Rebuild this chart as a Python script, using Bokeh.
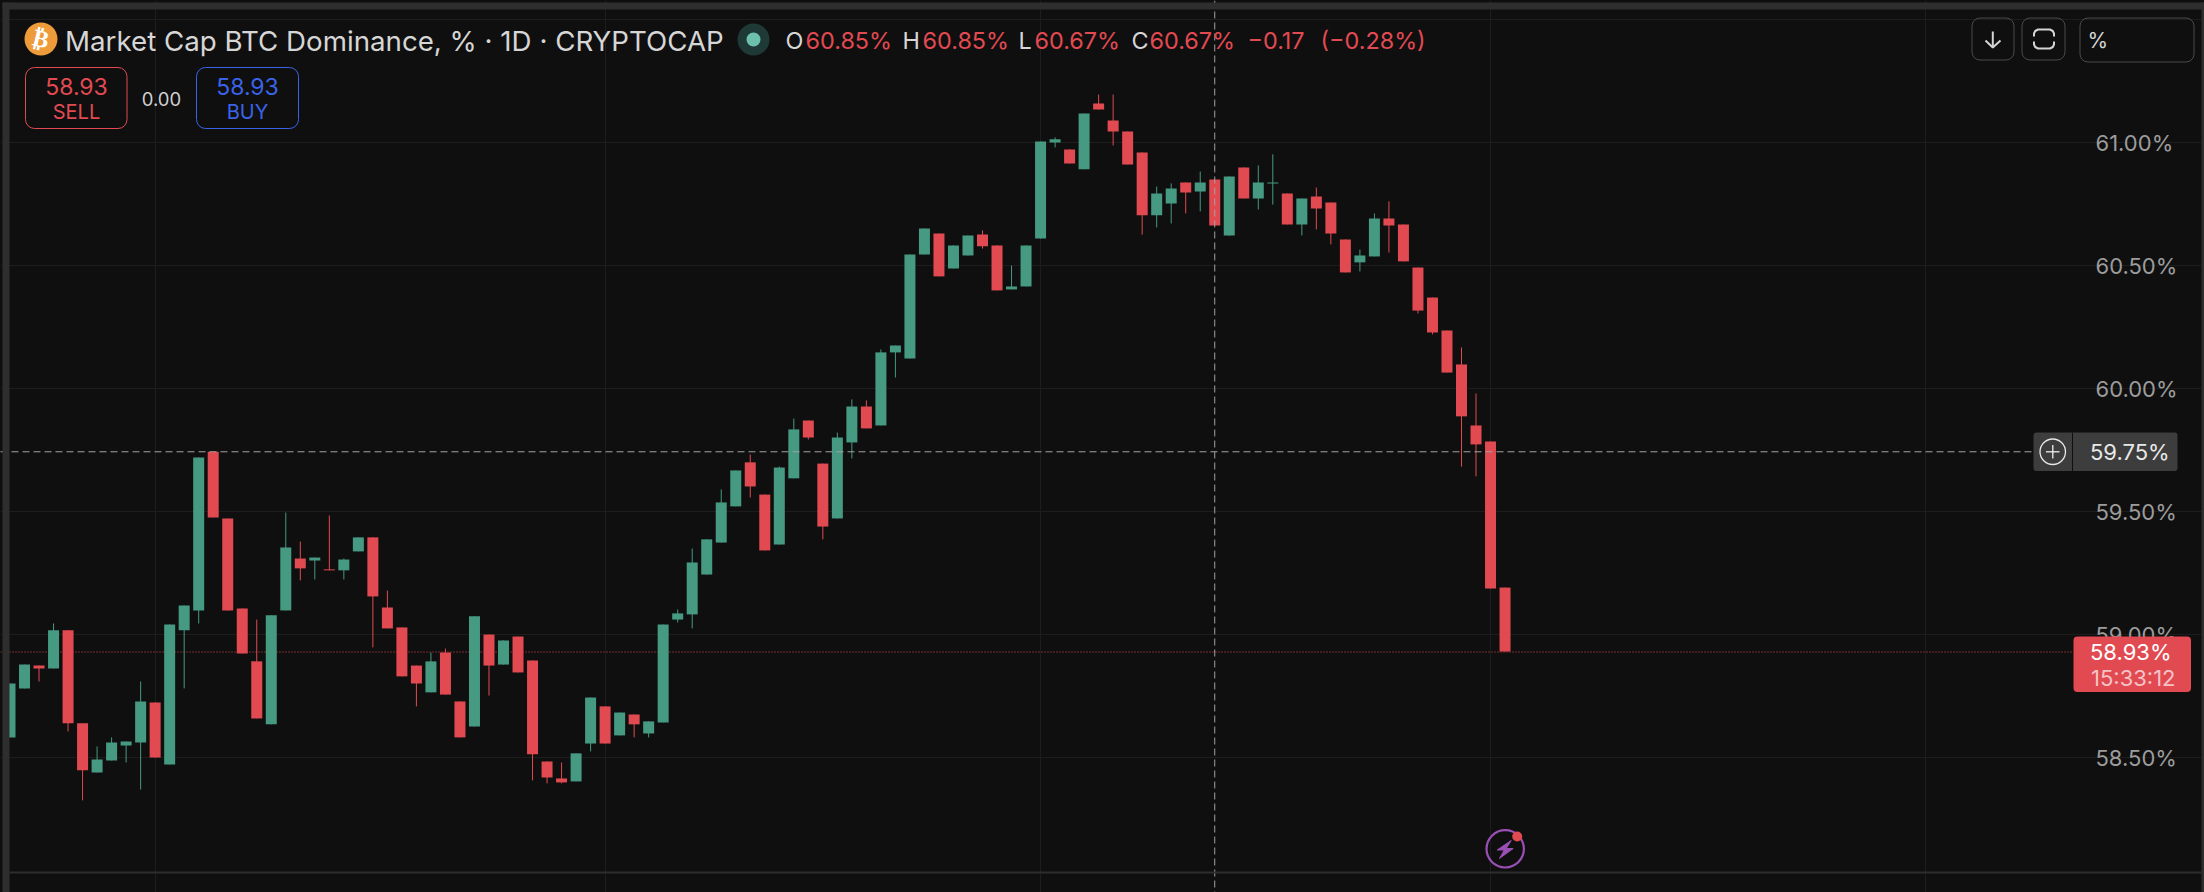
import math

from bokeh.embed import file_html
from bokeh.resources import INLINE
from bokeh.plotting import figure
from bokeh.models import (BoxAnnotation, ColumnDataSource, FixedTicker, GlobalInlineStyleSheet, Grid,
                          Label, LinearAxis, PolyAnnotation, PrintfTickFormatter, Range1d, Span)

# ---- chart values ----
opens = [58.583,58.782,58.875,58.863,59.018,58.640,58.440,58.489,58.550,58.562,58.725,58.473,59.018,59.099,59.744,59.473,
         59.107,58.892,58.636,59.099,59.310,59.302,59.266,59.262,59.339,59.396,59.111,59.030,58.875,58.766,58.928,58.729,
         58.627,59.001,58.879,58.993,58.896,58.485,58.416,58.404,58.558,58.709,58.591,58.676,58.599,58.644,59.062,59.083,
         59.245,59.375,59.522,59.701,59.570,59.367,59.636,59.871,59.696,59.473,59.782,59.928,59.851,60.148,60.123,60.546,
         60.631,60.489,60.542,60.627,60.583,60.404,60.416,60.611,61.001,60.973,60.892,61.160,61.091,61.046,60.961,60.705,
         60.753,60.839,60.802,60.851,60.623,60.900,60.774,60.835,60.794,60.668,60.782,60.757,60.607,60.514,60.538,60.692,
         60.668,60.493,60.371,60.237,60.099,59.851,59.786,59.192]
highs = [58.802,58.879,58.875,59.046,59.018,58.640,58.546,58.583,58.566,58.810,58.725,59.042,59.119,59.721,59.744,59.473,
         59.107,59.062,59.079,59.497,59.379,59.314,59.485,59.310,59.396,59.396,59.180,59.030,58.875,58.928,58.944,58.729,
         59.075,59.001,58.977,58.993,58.896,58.485,58.481,58.518,58.745,58.709,58.684,58.676,58.648,59.042,59.103,59.351,
         59.388,59.591,59.668,59.733,59.570,59.684,59.879,59.871,59.696,59.822,59.957,59.953,60.160,60.176,60.546,60.652,
         60.631,60.583,60.623,60.644,60.583,60.501,60.583,61.005,61.022,60.973,61.119,61.196,61.196,61.046,60.961,60.822,
         60.835,60.839,60.883,60.851,60.863,60.900,60.908,60.953,60.794,60.774,60.818,60.757,60.607,60.566,60.713,60.762,
         60.668,60.493,60.371,60.237,60.168,59.981,59.786,59.192]
lows = [58.583,58.782,58.810,58.863,58.607,58.327,58.440,58.489,58.481,58.371,58.501,58.473,58.782,59.046,59.477,59.099,
        58.924,58.660,58.636,59.099,59.221,59.225,59.262,59.225,59.339,58.949,59.026,58.831,58.709,58.766,58.757,58.583,
        58.627,58.753,58.879,58.847,58.408,58.396,58.396,58.404,58.526,58.558,58.591,58.583,58.583,58.644,59.050,59.026,
        59.245,59.375,59.522,59.558,59.343,59.367,59.636,59.794,59.388,59.473,59.717,59.839,59.851,60.046,60.123,60.546,
        60.457,60.489,60.542,60.570,60.400,60.404,60.416,60.611,60.981,60.916,60.892,61.135,60.989,60.912,60.627,60.656,
        60.672,60.713,60.721,60.664,60.623,60.774,60.729,60.749,60.668,60.623,60.648,60.587,60.473,60.477,60.538,60.554,
        60.518,60.306,60.221,60.066,59.684,59.644,59.188,58.932]
closes = [58.802,58.879,58.863,59.018,58.640,58.449,58.493,58.562,58.566,58.729,58.501,59.042,59.119,59.721,59.477,59.099,
          58.924,58.660,59.079,59.355,59.270,59.314,59.262,59.306,59.396,59.156,59.026,58.831,58.802,58.892,58.757,58.583,
          59.075,58.875,58.977,58.847,58.514,58.420,58.400,58.518,58.745,58.558,58.684,58.636,58.648,59.042,59.087,59.294,
          59.388,59.538,59.668,59.603,59.343,59.680,59.835,59.802,59.440,59.802,59.928,59.839,60.148,60.176,60.546,60.652,
          60.457,60.583,60.623,60.579,60.400,60.416,60.583,61.005,61.014,60.916,61.119,61.135,61.046,60.912,60.705,60.794,
          60.814,60.798,60.839,60.664,60.863,60.774,60.839,60.839,60.668,60.774,60.733,60.631,60.473,60.542,60.692,60.664,
          60.518,60.318,60.229,60.066,59.888,59.774,59.188,58.932]
price_ticks = [58.5, 59.0, 59.5, 60.0, 60.5, 61.0]
grid_prices = [58.5, 59.0, 59.5, 60.0, 60.5, 61.0, 61.5]
month_marks = [10, 41, 71, 102, 132]
last_price = 58.93
cross_price = 59.744
cross_bar = 83

BG = "#0f0f0f"
CHROME = "#2e2e2e"
GRID = "#1d1d1d"
UP = "#469a82"
DOWN = "#e24a52"
BORDER = "#4a4a4a"
FONT = "Inter"

days = list(range(len(opens)))
up = [c >= o for o, c in zip(opens, closes)]
src = ColumnDataSource(dict(
    day=days, high=highs, low=lows,
    top=[max(o, c) for o, c in zip(opens, closes)],
    bottom=[min(o, c) for o, c in zip(opens, closes)],
    colour=[UP if u else DOWN for u in up],
))

# page geometry: the frame fills the whole figure, which fills the window
W, H = 2204, 892
SCALE_X = 2072  # left edge of the price scale
STEP = 14.515
X0 = 9.5
Y59, PER_UNIT = 634.3, 246.0
x_start = -X0 / STEP
x_scale = (SCALE_X - X0) / STEP

p = figure(width=W, height=H, output_backend="svg", toolbar_location=None,
           x_range=Range1d(x_start, (W - X0) / STEP),
           y_range=Range1d(59 + (Y59 - H) / PER_UNIT, 59 + Y59 / PER_UNIT),
           x_axis_location=None, y_axis_location=None,
           min_border_left=0, min_border_top=0, min_border_right=0, min_border_bottom=0,
           background_fill_color=BG, border_fill_color=BG, outline_line_color=None,
           stylesheets=[GlobalInlineStyleSheet(css=(
               f"html,body{{margin:0;padding:0;overflow:hidden;background:{BG};}}"))])

axis = LinearAxis(ticker=FixedTicker(ticks=price_ticks), formatter=PrintfTickFormatter(format="%.2f%%"),
                  fixed_location=x_scale,
                  axis_line_color=None, major_tick_line_color=None, minor_tick_line_color=None,
                  major_label_text_color="#9c9c9c", major_label_text_font=FONT,
                  major_label_text_font_size="22px", major_label_standoff=17)
p.add_layout(axis, "right")

p.xgrid.visible = False
p.ygrid.visible = False
p.add_layout(Grid(dimension=0, ticker=FixedTicker(ticks=month_marks), grid_line_color=GRID, grid_line_width=1))
p.add_layout(Grid(dimension=1, ticker=FixedTicker(ticks=grid_prices), grid_line_color=GRID, grid_line_width=1,
                  bounds=(x_start, x_scale)))

price_line = p.segment([x_start], [last_price], [x_scale], [last_price], line_color=DOWN, line_width=1,
                       level="underlay")
price_line.glyph.line_dash = [1, 2]

p.segment("day", "high", "day", "low", source=src, line_color="colour", line_width=1)
p.vbar("day", width=11 / STEP, top="top", bottom="bottom", source=src,
       fill_color="colour", line_color=None)

CROSS = "#a3a3a3"
cross_line = p.segment([x_start], [cross_price], [x_scale], [cross_price], line_color=CROSS, line_width=1,
                       level="overlay")
cross_line.glyph.line_dash = [7, 4]
p.add_layout(Span(location=cross_bar, dimension="height", line_color=CROSS, line_width=1,
                  line_dash=[7, 4], level="overlay"))


# ---- interface furniture, placed by page pixel ----
def sx(px):
    return px


def sy(py):
    return H - py


def box(l, t, r, b, fill=None, line=None, width=1, radius=0):
    p.add_layout(BoxAnnotation(left=sx(l), right=sx(r), top=sy(t), bottom=sy(b),
                               left_units="screen", right_units="screen", top_units="screen", bottom_units="screen",
                               fill_color=fill or BG, fill_alpha=1 if fill else 0,
                               line_color=line or BG, line_alpha=1 if line else 0, line_width=width,
                               border_radius=math.ceil(radius), level="overlay"))


def text(px, py, s, size, colour, align="left", baseline="middle", font=FONT, style="normal", angle=0):
    p.add_layout(Label(x=sx(px), y=sy(py), x_units="screen", y_units="screen", text=s,
                       text_font=font, text_font_size=f"{size}px", text_color=colour, text_align=align,
                       text_baseline=baseline, text_font_style=style, angle=angle, level="overlay"))


def polyline(pts, colour, width=2):
    path = list(pts) + list(pts[-2:0:-1])
    p.add_layout(PolyAnnotation(xs=[sx(a) for a, _ in path], ys=[sy(b) for _, b in path],
                                xs_units="screen", ys_units="screen", level="overlay",
                                fill_alpha=0, line_color=colour, line_width=width, line_alpha=1))


# window chrome around the panel
box(2, 2, W, 9, fill=CHROME)
box(2, 2, 9, H, fill=CHROME)
box(2201, 2, W, H, fill=CHROME)

# panel separator above the (cropped) time scale
box(9, 871, 2201, 873, fill=CHROME)

# title row
box(24, 22, 57, 55, fill="#ee9c3a", radius=17)
text(40.5, 38.5, "\u20bf", 24, "#ffffff", align="center", font="DejaVu Sans", style="bold", angle=-0.24)
text(64.5, 40, "Market Cap BTC Dominance, % · 1D · CRYPTOCAP", 27.7, "#d6d6d6")
box(737, 23, 769, 55, fill="#1f3a36", radius=16)
box(746, 32, 760, 46, fill="#6cc0ad", radius=7)
for px, s, c in [(785, "O", "#d6d6d6"), (805, "60.85%", DOWN), (902, "H", "#d6d6d6"), (922, "60.85%", DOWN),
                 (1018, "L", "#d6d6d6"), (1034, "60.67%", DOWN), (1131, "C", "#d6d6d6"), (1149, "60.67%", DOWN),
                 (1247, "\u22120.17", DOWN), (1320, "(\u22120.28%)", DOWN)]:
    text(px, 40, s, 23.4, c)

# order buttons
BLUE = "#3b63e8"
box(25, 67, 126.5, 128, line=DOWN, radius=9)
text(76, 85.5, "58.93", 23, DOWN, align="center")
text(76, 111, "SELL", 20, DOWN, align="center")
text(161, 98, "0.00", 18.5, "#d0d0d0", align="center")
box(196, 67, 298, 128, line=BLUE, radius=9)
text(247, 85.5, "58.93", 23, BLUE, align="center")
text(247, 111, "BUY", 20, BLUE, align="center")

# top-right buttons
box(1971.5, 17.5, 2013.5, 59.5, line=BORDER, radius=8)
polyline([(1992.3, 31), (1992.3, 47)], "#d4d4d4", 2)
polyline([(1985, 40), (1992.3, 47), (2000, 40)], "#d4d4d4", 2)
box(2021.5, 17.5, 2064.5, 59.5, line=BORDER, radius=8)
polyline([(2033.5, 36), (2033.5, 33), (2034.7, 30.5), (2037.5, 29), (2049.5, 29), (2052.3, 30.5), (2053.5, 33), (2053.5, 36)],
         "#d4d4d4", 2)
polyline([(2033.5, 41), (2033.5, 44), (2034.7, 46.5), (2037.5, 48), (2049.5, 48), (2052.3, 46.5), (2053.5, 44), (2053.5, 41)],
         "#d4d4d4", 2)
box(2079.5, 17.5, 2193.5, 61.5, line=BORDER, radius=8)
text(2087, 40, "%", 21, "#d4d4d4")

# crosshair price tag
box(2033, 432, 2177, 470.5, fill="#3d3d3d", radius=3)
box(2071.5, 432, 2072.5, 470.5, fill=BG)
box(2039.5, 438.5, 2065, 464, line="#e8e8e8", width=1.3, radius=13)
polyline([(2045.5, 451.3), (2059, 451.3)], "#f0f0f0", 1.3)
polyline([(2052.3, 444.5), (2052.3, 458)], "#f0f0f0", 1.3)
text(2089.5, 451.5, "59.75%", 22, "#e8e8e8")

# last-price tag
box(2073, 636, 2190.5, 691.5, fill=DOWN, radius=4)
text(2089.5, 651.5, "58.93%", 22, "#ffffff")
text(2090.5, 677, "15:33:12", 22, "#f5c3c6")

# flash icon
box(1486, 829.7, 1523.4, 867, line="#9a4fb4", width=2.2, radius=19)
p.add_layout(PolyAnnotation(xs=[sx(a) for a in (1510.7, 1496.7, 1503.7, 1499, 1512.7, 1505.7)],
                            ys=[sy(b) for b in (840, 849.5, 849.5, 858, 848, 848)],
                            xs_units="screen", ys_units="screen", fill_color="#9a4fb4", fill_alpha=1,
                            line_color="#9a4fb4", line_alpha=1, line_width=1, level="overlay"))
box(1511.7, 831, 1521.7, 841, fill=DOWN, radius=5)

open("out.html", "w").write(file_html(p, INLINE))
